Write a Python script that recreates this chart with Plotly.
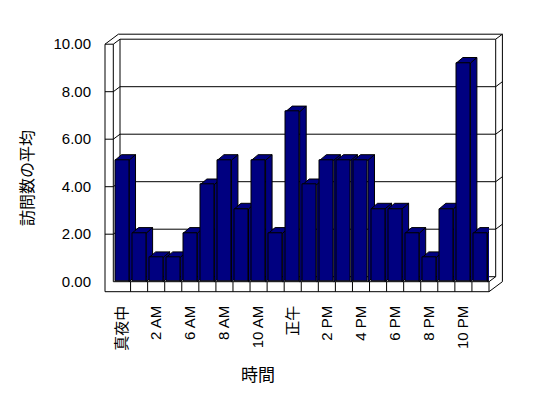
import plotly.graph_objects as go

# ---- data ----
categories = ["真夜中", "1 AM", "2 AM", "5 AM", "6 AM", "7 AM", "8 AM", "9 AM", "10 AM", "11 AM",
              "正午", "1 PM", "2 PM", "3 PM", "4 PM", "5 PM", "6 PM", "7 PM", "8 PM", "9 PM",
              "10 PM", "11 PM"]
values = [5, 2, 1, 1, 2, 4, 5, 3, 5, 2, 7, 4, 5, 5, 5, 3, 3, 2, 1, 3, 9, 2]
shown_labels = categories[::2]
y_ticks = [0, 2, 4, 6, 8, 10]
y_ticktext = ["%.2f" % v for v in y_ticks]
x_title = "時間"
y_title = "訪問数の平均"

# ---- layout geometry (pixels) ----
W, H = 548, 398
FONT = "Liberation Sans, Arial, Noto Sans CJK JP, sans-serif"
NAVY = "#000080"

plot_x0, plot_x1 = 113.5, 489.0          # x range [-0.5, n-0.5]
plot_y_top, plot_y_bot = 33.3, 291.7
base_y = 281.7                           # front floor edge (value 0 of bars)
k_bar = 24.3                             # px per unit, bars
k_wall = 23.75                           # px per unit, walls/labels
ddx, ddy = 6.7, 5.0                      # depth offset (px)

def fx(px):
    return px / W

def fy(py):
    return 1 - py / H

n = len(categories)
cat_px = (plot_x1 - plot_x0) / n

fig = go.Figure()

fig.add_trace(go.Bar(
    x=list(range(n)), y=values, width=0.82,
    marker=dict(color=NAVY, line=dict(color="black", width=1)),
    xaxis="x", yaxis="y", showlegend=False, hoverinfo="skip"))

shapes = []

def pline(x0, y0, x1, y1):
    shapes.append(dict(type="line", xref="paper", yref="paper",
                       x0=fx(x0), y0=fy(y0), x1=fx(x1), y1=fy(y1),
                       line=dict(color="black", width=1), layer="below"))

# walls and floor outline
wl_out, wl_in = 105.0, 113.3
bw_l, bw_r = wl_in + ddx, plot_x1 + ddx
top_front = base_y - 10 * k_wall
pline(wl_out, top_front, wl_out, plot_y_bot)
pline(wl_in, top_front, wl_in, base_y)
pline(wl_out, top_front, wl_in, top_front)
pline(wl_out, top_front, wl_out + 2 * ddx, top_front - 2 * ddy)
pline(wl_in, top_front, bw_l, top_front - ddy)
pline(wl_out + 2 * ddx, top_front - 2 * ddy, bw_r + ddx, top_front - 2 * ddy)
pline(bw_l, top_front - ddy, bw_r, top_front - ddy)
pline(bw_l, top_front - ddy, bw_l, base_y - ddy)
pline(bw_r, top_front - ddy, bw_r + ddx, top_front - 2 * ddy)
pline(bw_r, top_front - ddy, bw_r, base_y - ddy)
pline(bw_r + ddx, top_front - 2 * ddy, bw_r + ddx, base_y)
# floor
pline(wl_in, base_y, plot_x1, base_y)
pline(wl_out, plot_y_bot, plot_x1, plot_y_bot)
pline(plot_x1, base_y, plot_x1, plot_y_bot)
pline(plot_x1, base_y, bw_r, base_y - ddy)
pline(plot_x1, plot_y_bot, bw_r + ddx, base_y)
pline(bw_l, base_y - ddy, bw_r, base_y - ddy)
for i in range(n - 1):
    xb = plot_x0 + (i + 1) * cat_px
    pline(xb, base_y, xb, plot_y_bot)
# gridlines
for v in y_ticks[1:-1]:
    yf = base_y - v * k_wall
    yb = yf - ddy
    pline(wl_out, yf, wl_in, yf)
    pline(wl_in, yf, bw_l, yb)
    pline(bw_l, yb, bw_r, yb)
    pline(bw_r, yb, bw_r + ddx, yb - ddy)

# 3D faces of the bars (data coordinates)
hw = 0.41
dxd = 6.5 / cat_px
dyd = 5.5 / k_bar
for i, v in enumerate(values):
    xl, xr = i - hw, i + hw
    side = "M %f,%f L %f,%f L %f,%f L %f,%f Z" % (xr, 0, xr, v, xr + dxd, v + dyd, xr + dxd, dyd)
    top = "M %f,%f L %f,%f L %f,%f L %f,%f Z" % (xl, v, xr, v, xr + dxd, v + dyd, xl + dxd, v + dyd)
    for p in (side, top):
        shapes.append(dict(type="path", xref="x", yref="y", path=p,
                           fillcolor=NAVY, line=dict(color="black", width=1), layer="below"))

fig.update_layout(
    width=W, height=H,
    margin=dict(l=0, r=0, t=0, b=0),
    paper_bgcolor="white", plot_bgcolor="rgba(0,0,0,0)",
    font=dict(family=FONT, size=15, color="black"),
    shapes=shapes,
    bargap=0,
    xaxis=dict(domain=[fx(plot_x0), fx(plot_x1)], range=[-0.5, n - 0.5],
               tickmode="array", tickvals=list(range(0, n, 2)), ticktext=shown_labels,
               tickangle=-90, ticks="", showline=False, showgrid=False, zeroline=False,
               ticklabelstandoff=10, tickfont=dict(size=15, family=FONT)),
    yaxis=dict(domain=[fy(plot_y_bot), fy(plot_y_top)],
               range=[(base_y - plot_y_bot) / k_bar, (base_y - plot_y_top) / k_bar],
               showticklabels=False, showgrid=False, zeroline=False, ticks=""),
    yaxis2=dict(overlaying="y", anchor="free", position=fx(91), side="left",
                range=[(base_y - plot_y_bot) / k_wall, (base_y - plot_y_top) / k_wall],
                tickmode="array", tickvals=y_ticks, ticktext=y_ticktext,
                showgrid=False, zeroline=False, showline=False, ticks="",
                tickfont=dict(size=15, family=FONT)),
    annotations=[
        dict(text=x_title, x=fx(258), y=fy(375), xref="paper", yref="paper",
             showarrow=False, font=dict(size=17, family=FONT), xanchor="center", yanchor="middle"),
        dict(text=y_title, x=fx(27), y=fy(178), xref="paper", yref="paper",
             showarrow=False, textangle=-90, font=dict(size=16, family=FONT),
             xanchor="center", yanchor="middle"),
    ],
)

# ensure y2 is drawn
fig.add_trace(go.Scatter(x=[0], y=[0], yaxis="y2", xaxis="x", mode="markers",
                         marker=dict(opacity=0), showlegend=False, hoverinfo="skip"))

fig.write_html("out.html")
